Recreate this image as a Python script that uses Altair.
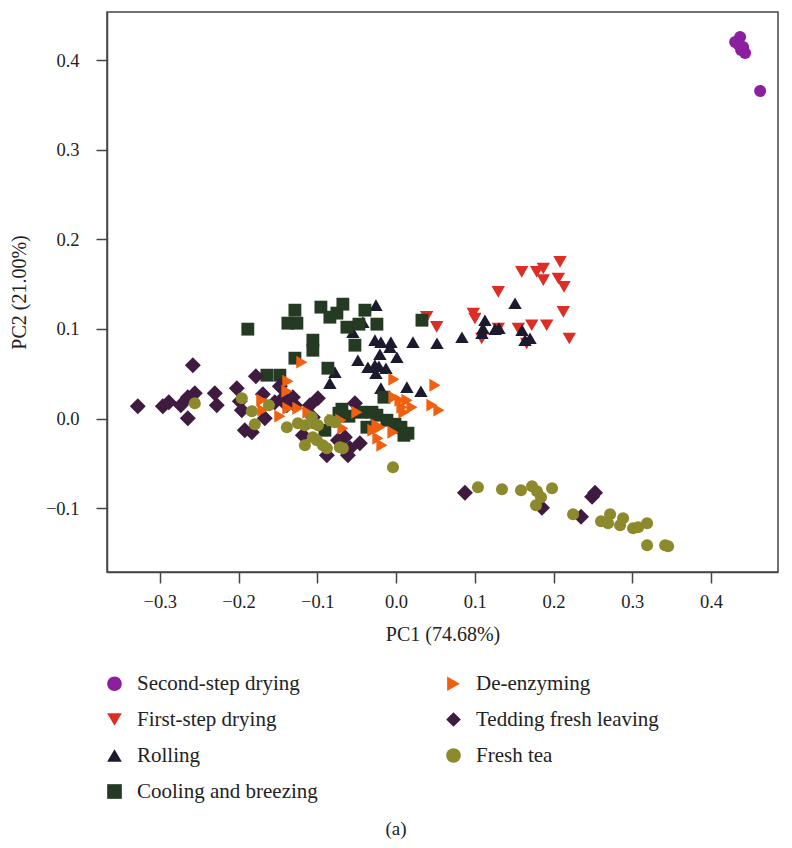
import altair as alt
import pandas as pd

# PCA scores (PC1, PC2) per processing stage
second_x = [0.4306, 0.4369, 0.4407, 0.4432, 0.4382, 0.4344, 0.4623]
second_y = [0.4204, 0.4260, 0.4149, 0.4082, 0.4115, 0.4182, 0.3657]

first_x = [0.2082, 0.1870, 0.1786, 0.1596, 0.1870, 0.2061, 0.2133, 0.1298, 0.0981, 0.1002,
           0.2124, 0.1723, 0.1913, 0.1553, 0.1298, 0.2200, 0.1088, 0.1659, 0.0389, 0.0516]
first_y = [0.1750, 0.1676, 0.1638, 0.1638, 0.1545, 0.1564, 0.1470, 0.1415, 0.1173, 0.1117,
           0.1191, 0.1042, 0.1042, 0.1006, 0.1006, 0.0894, 0.0894, 0.0838, 0.1135, 0.1023]

rolling_x = [-0.0255, -0.0548, -0.0421, -0.0268, -0.0192, -0.0065, -0.0077, -0.0205, 0.0011, 0.0215,
             0.0520, 0.0837, -0.0484, -0.0357, -0.0268, -0.0217, -0.0128, -0.0255, -0.0776, -0.0840,
             -0.0192, 0.0138, 0.0316, 0.1511, 0.1129, 0.1104, 0.1091, 0.1257, 0.1307, 0.1600,
             0.1638, 0.1701]
rolling_y = [0.1266, 0.0964, 0.1076, 0.0875, 0.0853, 0.0853, 0.0797, 0.0718, 0.0685, 0.0853,
             0.0841, 0.0908, 0.0651, 0.0573, 0.0596, 0.0584, 0.0562, 0.0506, 0.0518, 0.0395,
             0.0339, 0.0350, 0.0305, 0.1288, 0.1098, 0.1009, 0.0953, 0.0998, 0.1009, 0.0987,
             0.0875, 0.0897]

cooling_x = [-0.1882, -0.1284, -0.1373, -0.1259, -0.0954, -0.0840, -0.0751, -0.0675, -0.0395, -0.0624,
             -0.0471, -0.0243, -0.1056, -0.1056, -0.0522, -0.1284, -0.0865, -0.1640, -0.1475, 0.0329,
             -0.0154, -0.0687, -0.0598, -0.0725, -0.0306, -0.0243, -0.0116, -0.0014, 0.0062, 0.0151,
             0.0100, -0.0370, -0.0903, -0.0446]
cooling_y = [0.0998, 0.1210, 0.1065, 0.1065, 0.1244, 0.1132, 0.1177, 0.1277, 0.1210, 0.1020,
             0.1054, 0.1054, 0.0875, 0.0763, 0.0819, 0.0674, 0.0562, 0.0484, 0.0484, 0.1098,
             0.0238, 0.0104, 0.0026, 0.0059, 0.0070, 0.0037, -0.0019, -0.0064, -0.0097, -0.0164,
             -0.0187, -0.0097, -0.0131, 0.0070]

deenz_x = [-0.1196, -0.1373, -0.1386, -0.1704, -0.1691, -0.1602, -0.1475, -0.1373, -0.1246, -0.1119,
           -0.0027, 0.0494, -0.0027, 0.0050, 0.0139, 0.0202, 0.0075, 0.0100, 0.0456, 0.0545,
           -0.0497, -0.0675, -0.0802, -0.0293, -0.0243, -0.0205, -0.0230, -0.0179, -0.0039, -0.0700]
deenz_y = [0.0629, 0.0417, 0.0305, 0.0204, 0.0093, 0.0160, 0.0026, 0.0115, 0.0115, 0.0070,
           0.0439, 0.0372, 0.0238, 0.0204, 0.0204, 0.0126, 0.0126, 0.0070, 0.0149, 0.0093,
           0.0070, -0.0109, -0.0019, -0.0131, -0.0075, -0.0097, -0.0220, -0.0298, -0.0153, -0.0019]

tedding_x = [-0.3279, -0.2961, -0.2885, -0.2733, -0.2644, -0.2580, -0.2555, -0.2644, -0.2301, -0.2276,
             -0.2022, -0.1984, -0.1958, -0.1920, -0.1831, -0.1780, -0.1666, -0.1691, -0.1475, -0.1539,
             -0.1424, -0.1310, -0.1386, -0.1284, -0.1094, -0.0992, -0.1056, -0.0522, -0.1183, -0.0738,
             -0.0611, -0.0459, -0.0878, -0.0649, -0.0586, 0.0875, 0.1853, 0.2349, 0.2489, 0.2527]
tedding_y = [0.0137, 0.0137, 0.0182, 0.0149, 0.0238, 0.0596, 0.0283, 0.0003, 0.0283, 0.0149,
             0.0339, 0.0193, 0.0093, -0.0131, -0.0153, 0.0473, 0.0003, 0.0272, 0.0361, 0.0182,
             0.0238, 0.0238, 0.0149, 0.0149, 0.0149, 0.0227, 0.0014, 0.0171, -0.0187, -0.0243,
             -0.0410, -0.0276, -0.0410, -0.0209, -0.0332, -0.0830, -0.0997, -0.1098, -0.0875, -0.0830]

fresh_x = [-0.2555, -0.1958, -0.1831, -0.1793, -0.1615, -0.1386, -0.1246, -0.1157, -0.1068, -0.1056,
           -0.0992, -0.0840, -0.0776, -0.1056, -0.1157, -0.1005, -0.0929, -0.0878, -0.0713, -0.0675,
           -0.0039, 0.1040, 0.1345, 0.1587, 0.1727, 0.1790, 0.1841, 0.1777, 0.1981, 0.2248,
           0.2603, 0.2718, 0.2692, 0.2845, 0.2883, 0.3010, 0.3074, 0.3188, 0.3188, 0.3417, 0.3455]
fresh_y = [0.0171, 0.0227, 0.0082, -0.0064, 0.0149, -0.0097, -0.0053, -0.0075, 0.0015, -0.0053,
           -0.0075, -0.0019, -0.0041, -0.0209, -0.0298, -0.0243, -0.0298, -0.0332, -0.0321, -0.0332,
           -0.0544, -0.0768, -0.0790, -0.0801, -0.0757, -0.0813, -0.0880, -0.0969, -0.0779, -0.1070,
           -0.1148, -0.1070, -0.1170, -0.1193, -0.1114, -0.1226, -0.1215, -0.1170, -0.1416, -0.1416, -0.1427]

# legend order (two columns, filled top to bottom)
legend_order = ["Second-step drying", "First-step drying", "Rolling", "Cooling and breezing",
                "De-enzyming", "Tedding fresh leaving", "Fresh tea"]
colors = ["#8B1FA0", "#DC2E24", "#1C1A2E", "#243A22", "#F0600F", "#3F1B40", "#8C8A2C"]
shapes = ["circle", "triangle-down", "triangle-up", "square", "triangle-right", "diamond", "circle"]

# marker area per stage (symbol shapes differ in how much ink a given area gives)
marker_size = {
    "Second-step drying": 145,
    "First-step drying": 180,
    "Rolling": 180,
    "Cooling and breezing": 165,
    "De-enzyming": 165,
    "Tedding fresh leaving": 255,
    "Fresh tea": 145,
}

# drawing order: later groups sit on top
groups = [
    ("Second-step drying", second_x, second_y),
    ("First-step drying", first_x, first_y),
    ("Rolling", rolling_x, rolling_y),
    ("Cooling and breezing", cooling_x, cooling_y),
    ("Tedding fresh leaving", tedding_x, tedding_y),
    ("De-enzyming", deenz_x, deenz_y),
    ("Fresh tea", fresh_x, fresh_y),
]

rows = []
for name, xs, ys in groups:
    for a, b in zip(xs, ys):
        rows.append({"PC1": a, "PC2": b, "Stage": name, "sz": marker_size[name]})
df = pd.DataFrame(rows)

FONT = "Liberation Serif"

points = alt.Chart(df).mark_point(filled=True, opacity=1, strokeWidth=0).encode(
    x=alt.X("PC1:Q", title="PC1 (74.68%)",
            scale=alt.Scale(domain=[-0.367, 0.485], nice=False, zero=False),
            axis=alt.Axis(values=[-0.3, -0.2, -0.1, 0.0, 0.1, 0.2, 0.3, 0.4], format=".1f",
                          grid=False, titlePadding=14, labelPadding=9)),
    y=alt.Y("PC2:Q", title="PC2 (21.00%)",
            scale=alt.Scale(domain=[-0.1714, 0.454], nice=False, zero=False),
            axis=alt.Axis(values=[-0.1, 0.0, 0.1, 0.2, 0.3, 0.4], format=".1f",
                          grid=False, titlePadding=16, labelPadding=17)),
    color=alt.Color("Stage:N", scale=alt.Scale(domain=legend_order, range=colors),
                    legend=alt.Legend(title=None, orient="none", legendX=-3, legendY=661,
                                      columns=2, columnPadding=125, rowPadding=14,
                                      symbolSize=215, labelFontSize=21, labelFont=FONT,
                                      labelColor="#222222", labelOffset=12,
                                      symbolStrokeWidth=0, labelLimit=400)),
    shape=alt.Shape("Stage:N", scale=alt.Scale(domain=legend_order, range=shapes)),
    size=alt.Size("sz:Q", scale=None),
)

caption = alt.Chart(pd.DataFrame({"t": ["(a)"]})).mark_text(
    font=FONT, fontSize=19, color="#222222", baseline="middle", align="center"
).encode(text="t:N", x=alt.value(289), y=alt.value(817))

chart = alt.layer(points, caption).properties(
    width=671, height=560,
    autosize=alt.AutoSizeParams(type="none"),
    padding={"left": 107, "top": 12, "right": 14, "bottom": 276},
).configure_view(
    stroke="#444444", strokeWidth=1.5
).configure_axis(
    labelFont=FONT, titleFont=FONT, labelFontSize=18.5, titleFontSize=20,
    labelColor="#222222", titleColor="#222222", titleFontWeight="normal",
    domainColor="#444444", domainWidth=1.5, tickColor="#444444", tickWidth=1.5,
    tickSize=11
)

chart.save("out.html", embed_options={"renderer": "svg", "actions": False})
